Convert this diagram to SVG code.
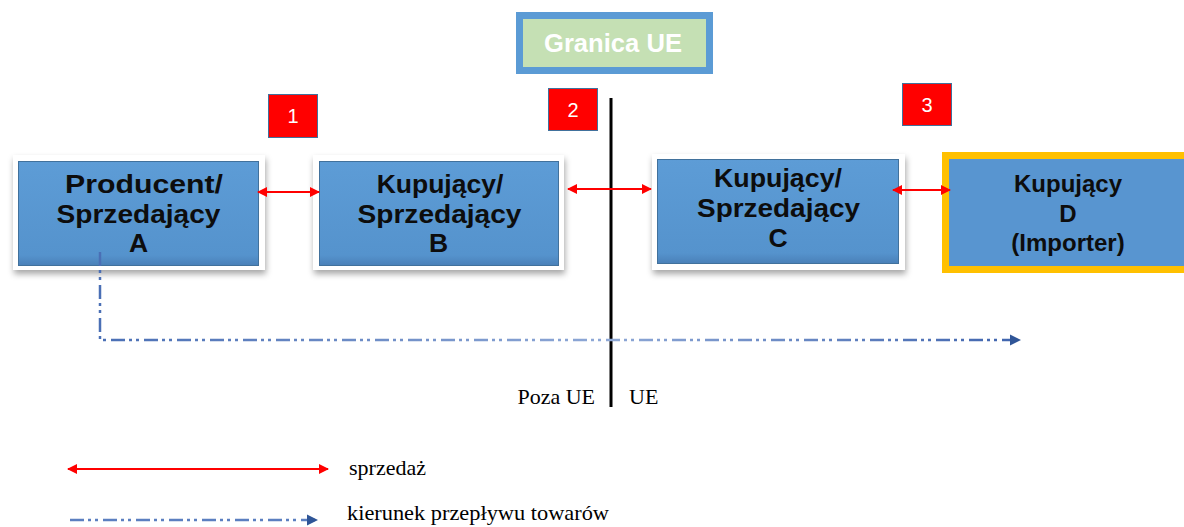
<svg xmlns="http://www.w3.org/2000/svg" width="1184" height="527" viewBox="0 0 1184 527">
<style>
.frame{fill:#ffffff;filter:url(#sh)}
.box{fill:url(#bg);stroke:#41719c;stroke-width:1}
.bt{font-family:"Liberation Sans",Arial,sans-serif;font-weight:bold;fill:#0d0d0d;text-anchor:middle}
.num{fill:#ff0000;stroke:#41719c;stroke-width:1}
.nt{font-family:"Liberation Sans",Arial,sans-serif;font-size:20px;fill:#ffffff;text-anchor:middle}
.st{font-family:"Liberation Serif","Times New Roman",serif;font-size:22px;fill:#000000}
.red{stroke:#ff0000;stroke-width:2;fill:none;marker-start:url(#rs);marker-end:url(#re)}
.flow{stroke-width:2.5;fill:none;stroke-dasharray:14 4 3 4 3 5}
</style>
<defs>
<linearGradient id="bg" x1="0" y1="0" x2="0" y2="1">
<stop offset="0" stop-color="#5d9cd6"/>
<stop offset="0.9" stop-color="#5593cd"/>
<stop offset="1" stop-color="#4a80b8"/>
</linearGradient>
<linearGradient id="fg" gradientUnits="userSpaceOnUse" x1="100" y1="0" x2="1020" y2="0">
<stop offset="0" stop-color="#4a6fb5"/>
<stop offset="0.55" stop-color="#8ea8d6"/>
<stop offset="1" stop-color="#3f64ae"/>
</linearGradient>
<filter id="sh" x="-10%" y="-20%" width="120%" height="150%">
<feDropShadow dx="1" dy="4" stdDeviation="3" flood-color="#000000" flood-opacity="0.35"/>
</filter>
<marker id="re" viewBox="0 0 10 10" refX="9" refY="5" markerWidth="5" markerHeight="5" orient="auto" markerUnits="strokeWidth">
<path d="M0,0 L10,5 L0,10 z" fill="#ff0000"/>
</marker>
<marker id="rs" viewBox="0 0 10 10" refX="1" refY="5" markerWidth="5" markerHeight="5" orient="auto" markerUnits="strokeWidth">
<path d="M10,0 L0,5 L10,10 z" fill="#ff0000"/>
</marker>
<marker id="be" viewBox="0 0 10 10" refX="9" refY="5" markerWidth="4.5" markerHeight="4.5" orient="auto" markerUnits="strokeWidth">
<path d="M0,0 L10,5 L0,10 z" fill="#2f5597"/>
</marker>
</defs>
<rect width="1184" height="527" fill="#ffffff"/>

<g id="granica">
<rect x="519.5" y="15.5" width="190" height="55" fill="#c5e0b4" stroke="#5b9bd5" stroke-width="7"/>
<text x="613" y="52" font-family="'Liberation Sans',Arial,sans-serif" font-weight="bold" font-size="25" fill="#ffffff" text-anchor="middle" textLength="138" lengthAdjust="spacingAndGlyphs">Granica UE</text>
</g>

<g id="border-line">
<line x1="611" y1="98" x2="611" y2="407" stroke="#000000" stroke-width="3"/>
<text class="st" x="595" y="404" text-anchor="end">Poza UE</text>
<text class="st" x="629" y="404">UE</text>
</g>

<g id="nodeA">
<rect class="frame" x="13" y="155" width="252" height="115"/>
<rect class="box" x="18.5" y="161.5" width="240" height="104"/>
<text class="bt" font-size="26.5" x="144" y="193" textLength="158" lengthAdjust="spacingAndGlyphs">Producent/</text>
<text class="bt" font-size="26.5" x="138.5" y="223" textLength="164" lengthAdjust="spacingAndGlyphs">Sprzedający</text>
<text class="bt" font-size="26.5" x="138.5" y="252">A</text>
</g>

<g id="nodeB">
<rect class="frame" x="313" y="155" width="251" height="115"/>
<rect class="box" x="319.5" y="161.5" width="239" height="104"/>
<text class="bt" font-size="26.5" x="440" y="193">Kupujący/</text>
<text class="bt" font-size="26.5" x="439.5" y="223" textLength="164" lengthAdjust="spacingAndGlyphs">Sprzedający</text>
<text class="bt" font-size="26.5" x="438.5" y="252">B</text>
</g>

<g id="nodeC">
<rect class="frame" x="652" y="154" width="253" height="116"/>
<rect class="box" x="657.5" y="159.5" width="241" height="104"/>
<text class="bt" font-size="26.5" x="778" y="187" textLength="128" lengthAdjust="spacingAndGlyphs">Kupujący/</text>
<text class="bt" font-size="26.5" x="778.5" y="217" textLength="163" lengthAdjust="spacingAndGlyphs">Sprzedający</text>
<text class="bt" font-size="26.5" x="778" y="247">C</text>
</g>

<g id="nodeD">
<rect x="945.5" y="155.5" width="250" height="114" fill="#5895d0" stroke="#ffc000" stroke-width="7"/>
<text class="bt" font-size="24"><tspan x="1068" y="192">Kupujący</tspan><tspan x="1068" y="222">D</tspan><tspan x="1068" y="251">(Importer)</tspan></text>
</g>

<g id="num1">
<rect class="num" x="268.5" y="94.5" width="49" height="43"/>
<text class="nt" x="293" y="123">1</text>
</g>
<g id="num2">
<rect class="num" x="548.5" y="88.5" width="49" height="42"/>
<text class="nt" x="573" y="117">2</text>
</g>
<g id="num3">
<rect class="num" x="902.5" y="83.5" width="49" height="42"/>
<text class="nt" x="927" y="112">3</text>
</g>

<g id="connectors">
<line class="red" x1="258" y1="192" x2="319" y2="192"/>
<line class="red" x1="568" y1="189" x2="651" y2="189"/>
<line class="red" x1="893" y1="190" x2="950" y2="190"/>
<path class="flow" stroke="url(#fg)" d="M100,252 L100,340 L1020,340" marker-end="url(#be)"/>
</g>

<g id="legend">
<line class="red" x1="68" y1="469" x2="328" y2="469"/>
<text class="st" x="349" y="475">sprzedaż</text>
<line class="flow" stroke="#5b7fc0" x1="70" y1="520" x2="317" y2="520" marker-end="url(#be)"/>
<text class="st" x="347" y="520" textLength="262" lengthAdjust="spacingAndGlyphs">kierunek przepływu towarów</text>
</g>
</svg>
